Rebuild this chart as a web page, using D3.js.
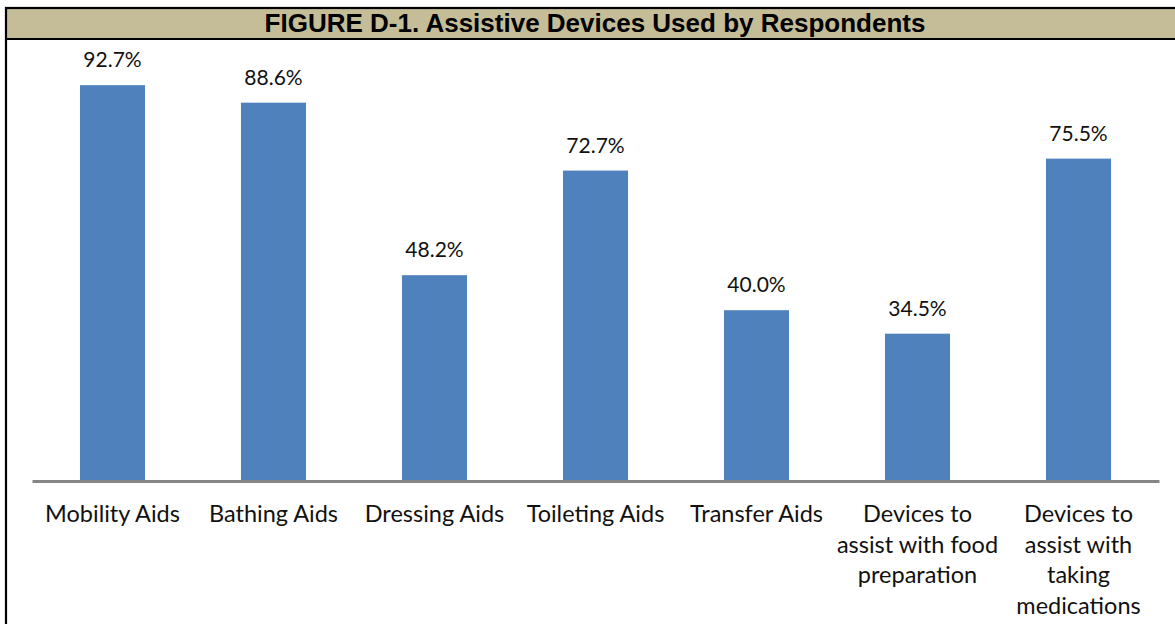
<!DOCTYPE html>
<html>
<head>
<meta charset="utf-8">
<script src="https://cdn.jsdelivr.net/npm/d3@7"></script>
<style>
  html, body { margin: 0; padding: 0; background: #fff; }
  svg { display: block; }
</style>
</head>
<body>
<svg id="chart" width="1175" height="624"></svg>
<script>
// Chart data
const title = "FIGURE D-1. Assistive Devices Used by Respondents";
const categories = [
  "Mobility Aids",
  "Bathing Aids",
  "Dressing Aids",
  "Toileting Aids",
  "Transfer Aids",
  "Devices to assist with food preparation",
  "Devices to assist with taking medications"
];
// Category labels broken into lines as they are set under the bars
const categoryLines = [
  ["Mobility Aids"],
  ["Bathing Aids"],
  ["Dressing Aids"],
  ["Toileting Aids"],
  ["Transfer Aids"],
  ["Devices to", "assist with food", "preparation"],
  ["Devices to", "assist with", "taking", "medications"]
];
const values = [92.7, 88.6, 48.2, 72.7, 40.0, 34.5, 75.5];

const W = 1175, H = 624;
const svg = d3.select("#chart");

// Frame and title band
const frame = { left: 6, top: 8, right: 1184, bottom: 640, band: 39 };
const labelFont = "Lato, 'Open Sans', sans-serif";

svg.append("rect")
  .attr("x", frame.left).attr("y", frame.top)
  .attr("width", frame.right - frame.left).attr("height", frame.band - frame.top)
  .attr("fill", "#C4BD97");

svg.append("rect")
  .attr("x", frame.left).attr("y", frame.top)
  .attr("width", frame.right - frame.left).attr("height", frame.bottom - frame.top)
  .attr("fill", "none").attr("stroke", "#000").attr("stroke-width", 2.2);

svg.append("line")
  .attr("x1", frame.left).attr("x2", frame.right)
  .attr("y1", frame.band).attr("y2", frame.band)
  .attr("stroke", "#000").attr("stroke-width", 2.2);

svg.append("text")
  .attr("x", (frame.left + frame.right) / 2)
  .attr("y", 32)
  .attr("text-anchor", "middle")
  .attr("font-family", "'Liberation Sans', Arial, sans-serif")
  .attr("font-weight", "bold")
  .attr("font-size", 26)
  .attr("fill", "#000")
  .text(title);

// Plot area
const plot = { left: 32, right: 1159, top: 54, bottom: 481 };

const x = d3.scaleBand()
  .domain(categories)
  .range([plot.left, plot.right])
  .paddingInner(0.596)
  .paddingOuter(0.298);

const y = d3.scaleLinear()
  .domain([0, 100])
  .range([plot.bottom, plot.top]);

const data = categories.map((c, i) => ({ cat: c, value: values[i], lines: categoryLines[i] }));

// Bars
svg.append("g")
  .selectAll("rect")
  .data(data)
  .join("rect")
  .attr("x", d => x(d.cat))
  .attr("y", d => y(d.value))
  .attr("width", x.bandwidth())
  .attr("height", d => y(0) - y(d.value))
  .attr("fill", "#4F81BD");

// Value labels
svg.append("g")
  .selectAll("text")
  .data(data)
  .join("text")
  .attr("x", d => x(d.cat) + x.bandwidth() / 2)
  .attr("y", d => y(d.value) - 18)
  .attr("text-anchor", "middle")
  .attr("font-family", labelFont)
  .attr("font-size", 21)
  .attr("fill", "#111")
  .text(d => d.value.toFixed(1) + "%");

// Category axis
const xAxis = d3.axisBottom(x).tickSize(0).tickFormat("");
const axisG = svg.append("g")
  .attr("transform", `translate(0,${y(0)})`)
  .call(xAxis);
axisG.select(".domain")
  .attr("stroke", "#868686")
  .attr("stroke-width", 3);

// Category labels, one tspan per line
const catG = svg.append("g")
  .selectAll("text")
  .data(data)
  .join("text")
  .attr("text-anchor", "middle")
  .attr("font-family", labelFont)
  .attr("font-size", 23.5)
  .attr("fill", "#111");

catG.selectAll("tspan")
  .data(d => d.lines.map((l, i) => ({ l, i, cx: x(d.cat) + x.bandwidth() / 2 })))
  .join("tspan")
  .attr("x", t => t.cx)
  .attr("y", t => 522 + t.i * 30.5)
  .text(t => t.l);
</script>
</body>
</html>
